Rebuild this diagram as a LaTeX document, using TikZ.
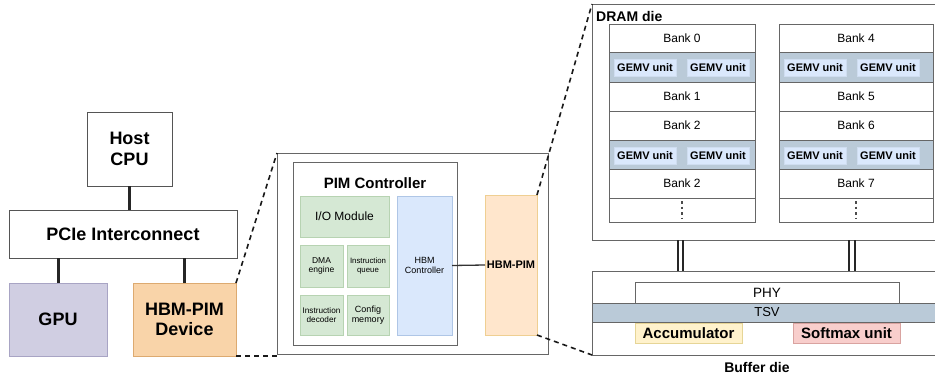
\documentclass[tikz,border=0pt]{standalone}
\usepackage{fontspec}
\setmainfont{Liberation Sans}

% font size shortcut
\newcommand\fsz[1]{\fontsize{#1}{\fpeval{round(#1*1.15,2)}}\selectfont}
% box from corner (x1,y1) to corner (x2,y2), y pointing down
\newcommand\pbox[7]{\node[#6, anchor=north west, minimum width={(#4-#2)*1pt}, minimum height={(#5-#3)*1pt}] (#1) at (#2,#3) {#7};}

\definecolor{edge}{HTML}{555555}
\definecolor{gpuF}{HTML}{D0CEE2}\definecolor{gpuD}{HTML}{A8A4C4}
\definecolor{devF}{HTML}{F9D4A9}\definecolor{devD}{HTML}{DDAA70}
\definecolor{grnF}{HTML}{D5E8D4}\definecolor{grnD}{HTML}{B7D3B2}
\definecolor{bluF}{HTML}{DAE8FC}\definecolor{bluD}{HTML}{AFC6E6}
\definecolor{pimF}{HTML}{FFE6CC}\definecolor{pimD}{HTML}{EFCF92}
\definecolor{band}{HTML}{BACAD8}
\definecolor{accF}{HTML}{FFF2CC}\definecolor{accD}{HTML}{E6D596}
\definecolor{smxF}{HTML}{F8CECC}\definecolor{smxD}{HTML}{D9A3A0}

\tikzset{
  plain/.style={draw=edge, line width=0.9pt, fill=white, inner sep=0pt, outer sep=0pt, align=center},
  bigtxt/.style={font=\fsz{18}\bfseries},
  gpubox/.style={plain, draw=gpuD, fill=gpuF, bigtxt},
  devbox/.style={plain, draw=devD, fill=devF, bigtxt},
  grnbox/.style={plain, draw=grnD, fill=grnF},
  blubox/.style={plain, draw=bluD, fill=bluF},
  pimbox/.style={plain, draw=pimD, fill=pimF, font=\fsz{11}\bfseries},
  frame/.style={plain, draw=black!60},
  bank/.style={plain, draw=black!60, font=\fsz{12}},
  gemvband/.style={plain, draw=black!60, fill=band},
  gemv/.style={plain, draw=bluD!60, fill=bluF, font=\fsz{11}\bfseries, minimum width=62pt, minimum height=17pt},
  bus/.style={line width=3pt, black!85},
  tsvlink/.style={line width=1.4pt, black!85},
  zoomline/.style={line width=1.6pt, dash pattern=on 5pt off 4pt, black!90},
}

\begin{document}
\begin{tikzpicture}[x=1pt,y=-1pt]
\useasboundingbox (0,0) rectangle (935,380);
\clip (0,0) rectangle (935,380);

% ---------------- host system ----------------
\pbox{cpu}{87}{112}{172}{186}{plain, bigtxt}{Host\\CPU}
\pbox{pcie}{9}{210}{237}{258}{plain, bigtxt}{PCIe Interconnect}
\pbox{gpu}{9}{283}{107}{356}{gpubox}{GPU}
\pbox{dev}{133}{283}{236}{356}{devbox}{HBM-PIM\\Device}

\draw[bus] (cpu.south) -- (cpu.south |- pcie.north);
\draw[bus] (gpu.north) -- (gpu.north |- pcie.south);
\draw[bus] (dev.north) -- (dev.north |- pcie.south);

% ---------------- HBM-PIM device ----------------
\pbox{mid}{277}{153}{548}{354}{frame}{}
\pbox{ctrl}{293}{162}{457}{345}{frame}{}
\node[font=\fsz{15}\bfseries] (ctrltitle) at (375,183) {PIM Controller};
\pbox{io}{300}{196}{389}{237}{grnbox, font=\fsz{12}}{I/O Module}
\pbox{dma}{300}{245}{343}{287}{grnbox, font=\fsz{8.5}}{DMA\\engine}
\pbox{iq}{347}{245}{389}{287}{grnbox, font=\fsz{7.8}}{Instruction\\queue}
\pbox{idec}{300}{295}{343}{335}{grnbox, font=\fsz{8.2}}{Instruction\\decoder}
\pbox{cfg}{347}{295}{389}{335}{grnbox, font=\fsz{9}}{Config\\memory}
\pbox{hbmc}{397}{196}{452}{335}{blubox, font=\fsz{9}}{HBM\\Controller}
\pbox{hbmpim}{485}{195}{537}{335}{pimbox}{HBM-PIM}
\draw[line width=1.3pt, black!80] (hbmc.east) -- (hbmpim.west);

\draw[zoomline] (dev.north east) -- (mid.north west);
\draw[zoomline] (dev.south east) -- (mid.south west |- dev.south east);

% ---------------- DRAM die ----------------
\pbox{dram}{592}{4}{950}{240}{frame}{}
\node[font=\fsz{14}\bfseries, anchor=west, inner sep=0pt] (dramlbl) at (596,16) {DRAM die};

\foreach \c/\xa/\xb/\ga/\gb/\bA/\bB/\bC/\bD in
    {L/609/755/645/718/Bank 0/Bank 1/Bank 2/Bank 2,
     R/779/933/815/888/Bank 4/Bank 5/Bank 6/Bank 7}{
  \pbox{\c0}{\xa}{24}{\xb}{52}{bank}{\bA}
  \pbox{\c1}{\xa}{52}{\xb}{82}{gemvband}{}
  \pbox{\c2}{\xa}{82}{\xb}{111}{bank}{\bB}
  \pbox{\c3}{\xa}{111}{\xb}{140}{bank}{\bC}
  \pbox{\c4}{\xa}{140}{\xb}{169}{gemvband}{}
  \pbox{\c5}{\xa}{169}{\xb}{198}{bank}{\bD}
  \pbox{\c6}{\xa}{198}{\xb}{222}{bank}{}
  \node[gemv] (\c1a) at (\ga,68) {GEMV unit};
  \node[gemv] (\c1b) at (\gb,68) {GEMV unit};
  \node[gemv] (\c4a) at (\ga,156) {GEMV unit};
  \node[gemv] (\c4b) at (\gb,156) {GEMV unit};
  \draw[line width=1.4pt, dash pattern=on 2.5pt off 3pt, black!70]
    ([yshift=-3pt]\c6.north) -- ([yshift=3pt]\c6.south);
}

% ---------------- buffer die ----------------
\pbox{buf}{592}{271}{950}{355}{frame}{}
\pbox{phy}{635}{282}{899}{303}{frame, font=\fsz{13.5}}{PHY}
\pbox{tsv}{592}{303}{950}{322}{frame, fill=band, font=\fsz{13}}{}
\node[font=\fsz{13}] (tsvlbl) at (767,312.5) {TSV};
\pbox{acc}{635}{323}{742}{343}{plain, draw=accD, fill=accF, font=\fsz{15}\bfseries}{Accumulator}
\pbox{smx}{793}{323}{900}{343}{plain, draw=smxD, fill=smxF, font=\fsz{15}\bfseries}{Softmax unit}
\node[font=\fsz{14}\bfseries] (buflbl) at (757,367) {Buffer die};

% die-to-die links (pairs of vertical wires)
\foreach \dx in {-4,1}{
  \draw[tsvlink] ([xshift=\dx pt]L6.south |- dram.south) -- ([xshift=\dx pt]L6.south |- buf.north);
}
\foreach \dx in {-7,-1}{
  \draw[tsvlink] ([xshift=\dx pt]R6.south |- dram.south) -- ([xshift=\dx pt]R6.south |- buf.north);
}

\draw[zoomline] (hbmpim.north east) -- (dram.north west);
\draw[zoomline] (hbmpim.south east) -- (buf.south west);
\end{tikzpicture}
\end{document}
